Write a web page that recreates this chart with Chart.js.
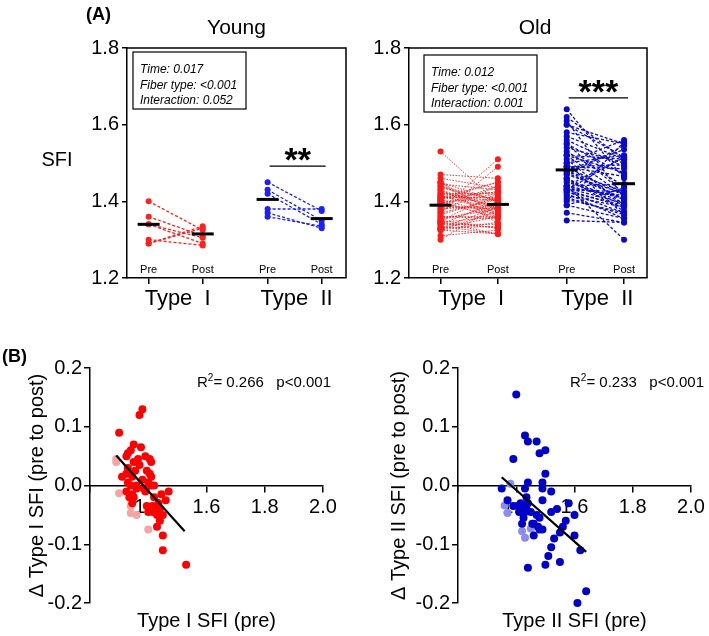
<!DOCTYPE html>
<html>
<head>
<meta charset="utf-8">
<script src="https://cdn.jsdelivr.net/npm/chart.js@4.4.1/dist/chart.umd.min.js"></script>
<style>
  body { margin: 0; background: #fff; width: 709px; height: 636px; position: relative; overflow: hidden; }
  canvas { position: absolute; }
</style>
</head>
<body>
<canvas id="young" width="360" height="320" style="left:0;top:0"></canvas>
<canvas id="old" width="349" height="320" style="left:360px;top:0"></canvas>
<canvas id="scat1" width="360" height="316" style="left:0;top:320px"></canvas>
<canvas id="scat2" width="349" height="316" style="left:360px;top:320px"></canvas>
<script>
// ---- panel A: paired SFI values ----
const groupPos = [0, 1, 2.2, 3.2];          // Pre I, Post I, Pre II, Post II
const groupLabels = ['Pre', 'Post', 'Pre', 'Post'];
const typeLabels = ['Type  I', 'Type  II'];
const sfiTicks = [1.2, 1.4, 1.6, 1.8];

const youngT1Pre  = [1.40, 1.36, 1.34, 1.34, 1.30, 1.29, 1.29];
const youngT1Post = [1.325, 1.31, 1.305, 1.29, 1.285, 1.335, 1.33];
const youngT2Pre  = [1.45, 1.43, 1.42, 1.38, 1.37, 1.36];
const youngT2Post = [1.375, 1.35, 1.34, 1.38, 1.33, 1.335];
const youngMeans  = [1.34, 1.315, 1.405, 1.355];

const oldT1Pre = [1.38, 1.37, 1.30, 1.35, 1.375, 1.34, 1.33, 1.325, 1.39, 1.405, 1.41, 1.37, 1.395, 1.405, 1.41, 1.325, 1.31, 1.345, 1.33, 1.34,
  1.41, 1.325, 1.345, 1.35, 1.345, 1.385, 1.39, 1.42, 1.445, 1.47, 1.395, 1.405, 1.415, 1.425, 1.435, 1.40, 1.45, 1.44, 1.43, 1.45,
  1.45, 1.53, 1.36, 1.38, 1.36, 1.415, 1.42, 1.33, 1.355, 1.40, 1.44, 1.43, 1.365, 1.46, 1.35, 1.335];
const oldT1Post = [1.51, 1.49, 1.39, 1.42, 1.44, 1.40, 1.385, 1.375, 1.44, 1.45, 1.45, 1.405, 1.42, 1.425, 1.425, 1.345, 1.325, 1.36, 1.335, 1.34,
  1.41, 1.315, 1.33, 1.33, 1.315, 1.38, 1.38, 1.42, 1.43, 1.46, 1.36, 1.365, 1.38, 1.385, 1.405, 1.355, 1.40, 1.38, 1.36, 1.365,
  1.34, 1.395, 1.36, 1.39, 1.355, 1.37, 1.40, 1.36, 1.38, 1.405, 1.40, 1.38, 1.41, 1.435, 1.39, 1.315];
const oldT2Pre = [1.40, 1.43, 1.44, 1.47, 1.48, 1.50, 1.39, 1.50, 1.49, 1.49, 1.52, 1.44, 1.43, 1.35, 1.37, 1.435, 1.49, 1.415, 1.405, 1.425,
  1.44, 1.45, 1.43, 1.41, 1.58, 1.54, 1.52, 1.60, 1.48, 1.42, 1.46, 1.475, 1.49, 1.56, 1.55, 1.60, 1.62, 1.52, 1.51, 1.50,
  1.55, 1.44, 1.61, 1.64, 1.47, 1.455, 1.48, 1.425, 1.435, 1.39, 1.46, 1.57, 1.53];
const oldT2Post = [1.555, 1.515, 1.515, 1.545, 1.535, 1.56, 1.435, 1.52, 1.495, 1.485, 1.51, 1.445, 1.425, 1.345, 1.345, 1.415, 1.465, 1.385, 1.37, 1.39,
  1.41, 1.405, 1.385, 1.365, 1.55, 1.50, 1.475, 1.55, 1.425, 1.355, 1.395, 1.405, 1.415, 1.49, 1.47, 1.515, 1.51, 1.415, 1.39, 1.365,
  1.42, 1.30, 1.41, 1.46, 1.42, 1.39, 1.405, 1.37, 1.395, 1.355, 1.375, 1.51, 1.44];
const oldMeans = [1.39, 1.392, 1.482, 1.446];

// ---- panel B: change vs baseline ----
const deltaTicks = [-0.2, -0.1, 0, 0.1, 0.2];
const youngT1Delta = [-0.075, -0.05, -0.035, -0.047, -0.013, 0.045, 0.04];
const youngT2Delta = [-0.073, -0.089, -0.078, 0.003, -0.047, -0.034];
const oldT1Delta = [0.13, 0.12, 0.09, 0.07, 0.065, 0.06, 0.055, 0.05, 0.05, 0.045, 0.04, 0.035, 0.025, 0.02, 0.015, 0.02, 0.015, 0.015, 0.005, 0.0,
  0.0, -0.01, -0.015, -0.02, -0.03, -0.005, -0.01, 0.0, -0.015, -0.01, -0.035, -0.04, -0.035, -0.04, -0.03, -0.045, -0.05, -0.06, -0.07, -0.085,
  -0.11, -0.135, 0.0, 0.01, -0.005, -0.045, -0.02, 0.03, 0.025, 0.005, -0.04, -0.05, 0.045, -0.025, 0.04, -0.02];
const oldT2Delta = [0.155, 0.085, 0.075, 0.075, 0.055, 0.06, 0.045, 0.02, 0.005, -0.005, -0.01, 0.005, -0.005, -0.005, -0.025, -0.02, -0.025, -0.03, -0.035, -0.035,
  -0.03, -0.045, -0.045, -0.045, -0.03, -0.04, -0.045, -0.05, -0.055, -0.065, -0.065, -0.07, -0.075, -0.07, -0.08, -0.085, -0.11, -0.105, -0.12, -0.135,
  -0.13, -0.14, -0.20, -0.18, -0.05, -0.065, -0.075, -0.055, -0.04, -0.035, -0.085, -0.06, -0.09];
const fit1X = [1.29, 1.525], fit1Y = [0.051, -0.078];
const fit2X = [1.35, 1.64],  fit2Y = [0.014, -0.113];

const FONT = '"Liberation Sans", Arial, sans-serif';
Chart.defaults.font.family = FONT;
Chart.defaults.color = '#000';
Chart.defaults.animation = false;
Chart.defaults.plugins.legend.display = false;
Chart.defaults.plugins.tooltip.enabled = false;

const axisGrid = { drawOnChartArea: false, color: '#000', lineWidth: 1.5, tickLength: 6 };
const axisBorder = { color: '#000', width: 1.5 };

function pairSets(pre, post, x0, color, width, dash) {
  return pre.map((v, i) => ({
    data: [{ x: x0, y: v }, { x: x0 + 1, y: post[i] }],
    showLine: true, borderColor: color, borderWidth: width, borderDash: dash,
    pointRadius: 3, pointBackgroundColor: color, pointBorderWidth: 0, order: 2
  }));
}

function topChart(id, o) {
  const datasets = [
    { data: groupPos.map((x, i) => ({ x, y: o.means[i] })), pointStyle: 'line', pointRadius: 11,
      pointBorderWidth: 3, pointBorderColor: '#000', order: 0 },
    ...pairSets(o.t1Pre, o.t1Post, groupPos[0], o.red, o.w1, o.dash1),
    ...pairSets(o.t2Pre, o.t2Post, groupPos[2], o.blue, 1.3, [3, 2])
  ];
  new Chart(document.getElementById(id), {
    type: 'scatter',
    data: { datasets },
    options: {
      responsive: false, devicePixelRatio: 1,
      layout: { padding: { left: 0, top: 48, right: o.padRight, bottom: 0 } },
      scales: {
        x: { type: 'linear', min: o.xMin, max: o.xMax,
          afterBuildTicks: s => { s.ticks = groupPos.map(v => ({ value: v })); },
          afterFit: s => { s.height = 42; },
          ticks: { autoSkip: false, callback: () => '' },
          grid: axisGrid, border: axisBorder },
        y: { min: 1.2, max: 1.8,
          afterBuildTicks: s => { s.ticks = sfiTicks.map(v => ({ value: v })); },
          afterFit: s => { s.width = o.yWidth; },
          ticks: { font: { size: 20 }, padding: 3, callback: v => v.toFixed(1) },
          grid: Object.assign({}, axisGrid, { tickLength: 5 }), border: axisBorder }
      }
    },
    plugins: [{
      id: 'decoA',
      afterDraw(chart) {
        const { ctx, chartArea: a, scales: { x, y } } = chart;
        ctx.save();
        ctx.strokeStyle = '#000'; ctx.lineWidth = 1.5;
        ctx.beginPath(); ctx.moveTo(a.left, a.top); ctx.lineTo(a.right, a.top); ctx.lineTo(a.right, a.bottom); ctx.stroke();
        ctx.fillStyle = '#000'; ctx.textAlign = 'center'; ctx.textBaseline = 'alphabetic';
        ctx.font = '11px ' + FONT;
        groupPos.forEach((p, i) => ctx.fillText(groupLabels[i], x.getPixelForValue(p), a.bottom - 5));
        ctx.font = '22px ' + FONT;
        ctx.fillText(typeLabels[0], (x.getPixelForValue(groupPos[0]) + x.getPixelForValue(groupPos[1])) / 2 + 2, a.bottom + 27);
        ctx.fillText(typeLabels[1], (x.getPixelForValue(groupPos[2]) + x.getPixelForValue(groupPos[3])) / 2 + 2, a.bottom + 27);
        ctx.font = '21px ' + FONT;
        ctx.fillText(o.title, (a.left + a.right) / 2 + o.titleDx, 34);
        if (o.sfi) { ctx.font = '20px ' + FONT; ctx.fillText('SFI', 57, 166); }
        if (o.tag) { ctx.font = 'bold 18px ' + FONT; ctx.textAlign = 'left'; ctx.fillText(o.tag, 86, 20); ctx.textAlign = 'center'; }
        // significance
        const by = y.getPixelForValue(o.barVal);
        ctx.beginPath(); ctx.lineWidth = 1.2;
        ctx.moveTo(x.getPixelForValue(groupPos[2]) + 2, by); ctx.lineTo(x.getPixelForValue(groupPos[3]) + 4, by); ctx.stroke();
        ctx.font = 'bold 34px ' + FONT;
        ctx.fillText(o.stars, (x.getPixelForValue(groupPos[2]) + x.getPixelForValue(groupPos[3])) / 2 + 3, by + 5);
        // stats box
        const bx = a.left + o.boxDx, bt = a.top + o.boxDy;
        ctx.lineWidth = 1.2; ctx.strokeRect(bx, bt, 113, 57);
        ctx.font = 'italic 12px ' + FONT; ctx.textAlign = 'left';
        o.stats.forEach((s, i) => ctx.fillText(s, bx + 7, bt + 21 + i * 15.5));
        ctx.restore();
      }
    }]
  });
}

topChart('young', {
  t1Pre: youngT1Pre, t1Post: youngT1Post, t2Pre: youngT2Pre, t2Post: youngT2Post, means: youngMeans,
  red: '#ff2020', blue: '#1e1eff', w1: 1.3, dash1: [3, 2],
  xMin: -0.4, xMax: 3.65, yWidth: 127, padRight: 2, title: 'Young', titleDx: 0, sfi: true, tag: '(A)',
  barVal: 1.492, stars: '**', boxDx: 6, boxDy: 4,
  stats: ['Time: 0.017', 'Fiber type: <0.001', 'Interaction: 0.052']
});
topChart('old', {
  t1Pre: oldT1Pre, t1Post: oldT1Post, t2Pre: oldT2Pre, t2Post: oldT2Post, means: oldMeans,
  red: '#ff1a1a', blue: '#0a0acc', w1: 0.9, dash1: [1.5, 1.5],
  xMin: -0.55, xMax: 3.6, yWidth: 49, padRight: 62, title: 'Old', titleDx: 7, sfi: false, tag: null,
  barVal: 1.67, stars: '***', boxDx: 15, boxDy: 7,
  stats: ['Time: 0.012', 'Fiber type: <0.001', 'Interaction: 0.001']
});

function scatterChart(id, o) {
  new Chart(document.getElementById(id), {
    type: 'scatter',
    data: {
      datasets: [
        { data: o.fitX.map((x, i) => ({ x, y: o.fitY[i] })), showLine: true, borderColor: '#000', borderWidth: 2.2, pointRadius: 0, order: 0 },
        { data: o.oldX.map((x, i) => ({ x, y: o.oldY[i] })), pointRadius: 4, pointBackgroundColor: o.dark, pointBorderWidth: 0, order: 1, clip: 6 },
        { data: o.youngX.map((x, i) => ({ x, y: o.youngY[i] })), pointRadius: 4, pointBackgroundColor: o.light, pointBorderWidth: 0, order: 2 }
      ]
    },
    options: {
      responsive: false, devicePixelRatio: 1,
      layout: { padding: { left: 0, top: 48, right: o.padRight, bottom: 33 } },
      scales: {
        x: { type: 'linear', position: { y: 0 }, min: 1.2, max: 2.0,
          ticks: { stepSize: 0.2, font: { size: 20 }, padding: 4, callback: v => v < 1.3 ? '' : v.toFixed(1) },
          grid: axisGrid, border: axisBorder },
        y: { min: -0.2, max: 0.2,
          afterBuildTicks: s => { s.ticks = deltaTicks.map(v => ({ value: v })); },
          afterFit: s => { s.width = o.yWidth; },
          ticks: { font: { size: 20 }, padding: 2, callback: v => v.toFixed(1) },
          grid: axisGrid, border: axisBorder }
      }
    },
    plugins: [{
      id: 'decoB',
      afterDraw(chart) {
        const { ctx, chartArea: a } = chart;
        ctx.save();
        ctx.fillStyle = '#000';
        ctx.font = '20px ' + FONT; ctx.textAlign = 'center'; ctx.textBaseline = 'alphabetic';
        ctx.fillText(o.xTitle, (a.left + a.right) / 2, a.bottom + 24);
        ctx.save();
        ctx.translate(a.left - o.yTitleDx, (a.top + a.bottom) / 2);
        ctx.rotate(-Math.PI / 2); ctx.textBaseline = 'middle';
        ctx.fillText(o.yTitle, 0, 0);
        ctx.restore();
        // R² and p
        ctx.textAlign = 'left';
        let tx = a.left + o.statDx; const ty = a.top + 19;
        ctx.font = '15px ' + FONT; ctx.fillText('R', tx, ty); tx += ctx.measureText('R').width;
        ctx.font = '10px ' + FONT; ctx.fillText('2', tx, ty - 6); tx += ctx.measureText('2').width;
        ctx.font = '15px ' + FONT; ctx.fillText('= ' + o.r2 + '   p<0.001', tx, ty);
        if (o.tag) { ctx.font = 'bold 18px ' + FONT; ctx.fillText(o.tag, 2, 42); }
        ctx.restore();
      }
    }]
  });
}

scatterChart('scat1', {
  oldX: oldT1Pre, oldY: oldT1Delta, youngX: youngT1Pre, youngY: youngT1Delta, fitX: fit1X, fitY: fit1Y,
  dark: '#ff0000', light: '#f5a3a3', yWidth: 90, padRight: 37, yTitleDx: 53, statDx: 107, r2: '0.266',
  xTitle: 'Type I SFI (pre)', yTitle: '\u0394 Type I SFI (pre to post)', tag: '(B)'
});
scatterChart('scat2', {
  oldX: oldT2Pre, oldY: oldT2Delta, youngX: youngT2Pre, youngY: youngT2Delta, fitX: fit2X, fitY: fit2Y,
  dark: '#0000c8', light: '#8c8cf0', yWidth: 98, padRight: 18, yTitleDx: 59, statDx: 112, r2: '0.233',
  xTitle: 'Type II SFI (pre)', yTitle: '\u0394 Type II SFI (pre to post)', tag: null
});
</script>
</body>
</html>
